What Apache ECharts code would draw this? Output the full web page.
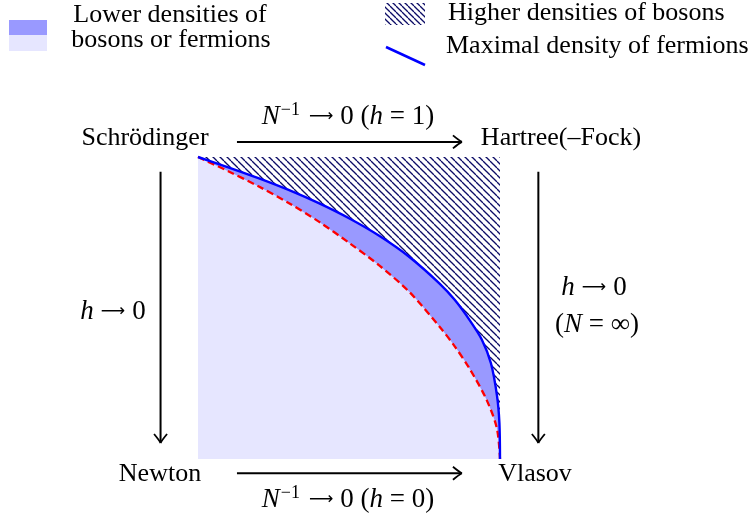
<!DOCTYPE html>
<html>
<head>
<meta charset="utf-8">
<script src="https://cdn.jsdelivr.net/npm/echarts@6/dist/echarts.min.js"></script>
<style>
html,body{margin:0;padding:0;background:#fff;}
#chart{width:756px;height:513px;}
</style>
</head>
<body>
<div id="chart"></div>
<script>
// ---- data (unit square: x = 0..1, y = 0..1) ----
const blueCurve = [[0,1],[0.1,0.966],[0.2,0.930],[0.3,0.891],[0.4,0.847],[0.5,0.797],[0.6,0.739],[0.7,0.669],[0.8,0.581],[0.85,0.527],[0.9,0.459],[0.94,0.395],[0.97,0.317],[0.99,0.210],[0.998,0.120],[1,0]];
const redCurve = [[0,1],[0.1,0.953],[0.2,0.903],[0.3,0.848],[0.4,0.786],[0.5,0.716],[0.6,0.641],[0.7,0.553],[0.8,0.438],[0.85,0.373],[0.9,0.298],[0.956,0.195],[0.99,0.100],[1,0]];
const hatchTop = [[0,1],[1,1]];
const arrows = [
  [0.129, 1.050, 0.874, 1.050],   // Schrödinger -> Hartree
  [0.129, -0.047, 0.874, -0.047], // Newton -> Vlasov
  [-0.124, 0.951, -0.124, 0.053], // Schrödinger -> Newton
  [1.127, 0.951, 1.127, 0.053]    // Hartree -> Vlasov
];
const legendLabels = ['Lower densities of', 'bosons or fermions', 'Higher densities of bosons', 'Maximal density of fermions'];
const nodeLabels = ['Schrödinger', 'Hartree(–Fock)', 'Newton', 'Vlasov'];

// ---- layout ----
const PX = 302, X0 = 198, Y0 = 459, W = 756, H = 513;
const FONT = '"Liberation Serif", "Times New Roman", serif';
const FS = 26;

function hatchPattern(s, lw) {
  const c = document.createElement('canvas');
  c.width = s; c.height = s;
  const g = c.getContext('2d');
  g.strokeStyle = '#0c0c66';
  g.lineWidth = lw;
  for (let k = -1; k <= 1; k++) {
    g.beginPath();
    g.moveTo(k * s, 0);
    g.lineTo(k * s + s, s);
    g.stroke();
  }
  return c;
}
const pat = { image: hatchPattern(7, 1.3), repeat: 'repeat' };
const patSmall = { image: hatchPattern(6, 1.3), repeat: 'repeat' };

const chart = echarts.init(document.getElementById('chart'), null, {renderer: 'canvas'});

const mathRich = {
  it: {fontFamily: FONT, fontStyle: 'italic', fontSize: 27, color: '#000'},
  sup: {fontFamily: FONT, fontSize: 18, color: '#000', verticalAlign: 'top', padding: [0,2,13,1]},
  n: {fontFamily: FONT, fontSize: 27, color: '#000'},
  ar: {fontFamily: '"DejaVu Sans"', fontSize: 17, color: '#000', padding: [0, 7, 0, 7]}
};

function txt(text, x, y, align) {
  return {
    type: 'text', x: x, y: y, z: 100,
    style: {text: text, fill: '#000', font: FS + 'px ' + FONT, textAlign: align || 'center', textVerticalAlign: 'middle'}
  };
}
function mtxt(text, x, y) {
  return {type: 'text', x: x, y: y, z: 100, style: {text: text, rich: mathRich, textAlign: 'center', textVerticalAlign: 'middle'}};
}

const graphics = [
  {type: 'rect', shape: {x: 9, y: 20, width: 38, height: 15}, style: {fill: '#9999ff'}},
  {type: 'rect', shape: {x: 9, y: 35, width: 38, height: 16}, style: {fill: '#e6e6ff'}},
  {type: 'rect', shape: {x: 385, y: 3, width: 40, height: 22}, style: {fill: patSmall}},
  {type: 'line', shape: {x1: 386, y1: 47, x2: 425, y2: 65}, style: {stroke: '#0000ff', lineWidth: 2.5}},
  txt(legendLabels[0], 170, 15.5),
  txt(legendLabels[1], 171, 40),
  txt(legendLabels[2], 448, 13, 'left'),
  txt(legendLabels[3], 446, 46.5, 'left'),
  txt(nodeLabels[0], 145, 138.5),
  txt(nodeLabels[1], 561, 138),
  txt(nodeLabels[2], 160, 474.5),
  txt(nodeLabels[3], 535, 474.5),
  mtxt('{it|N}{sup|−1}{ar|⟶}{n|0 (}{it|h}{n| = 1)}', 348, 117),
  mtxt('{it|N}{sup|−1}{ar|⟶}{n|0 (}{it|h}{n| = 0)}', 348, 500),
  mtxt('{it|h}{ar|⟶}{n|0}', 113, 311.5),
  mtxt('{it|h}{ar|⟶}{n|0}', 594, 288),
  mtxt('{n|(}{it|N}{n| = ∞)}', 597, 325)
];

const option = {
  animation: false,
  backgroundColor: '#fff',
  grid: {left: 0, right: 0, top: 0, bottom: 0},
  xAxis: {type: 'value', min: -X0 / PX, max: (W - X0) / PX, show: false},
  yAxis: {type: 'value', min: -(H - Y0) / PX, max: Y0 / PX, show: false},
  graphic: graphics,
  series: [
    {type: 'line', data: hatchTop, symbol: 'none', z: 1, lineStyle: {width: 0}, areaStyle: {color: pat, opacity: 1}},
    {type: 'line', data: blueCurve, symbol: 'none', z: 2, smooth: 0.3, lineStyle: {width: 0}, areaStyle: {color: '#9999ff', opacity: 1}},
    {type: 'line', data: redCurve, symbol: 'none', z: 3, smooth: 0.3, lineStyle: {width: 0}, areaStyle: {color: '#e6e6ff', opacity: 1}},
    {type: 'line', data: redCurve, symbol: 'none', z: 4, smooth: 0.3, lineStyle: {color: '#ff0000', width: 2.3, type: [7, 4]}},
    {type: 'line', data: blueCurve, symbol: 'none', z: 5, smooth: 0.3, lineStyle: {color: '#0000ff', width: 2.4}},
    {
      type: 'custom', z: 6, data: arrows, encode: {x: [0, 2], y: [1, 3]},
      renderItem: function (params, api) {
        const p1 = api.coord([api.value(0), api.value(1)]);
        const p2 = api.coord([api.value(2), api.value(3)]);
        const dx = p2[0] - p1[0], dy = p2[1] - p1[1];
        const L = Math.sqrt(dx * dx + dy * dy);
        const ux = dx / L, uy = dy / L, nx = -uy, ny = ux;
        const back = 9, out = 6.5;
        const b1 = [p2[0] - ux * back + nx * out, p2[1] - uy * back + ny * out];
        const b2 = [p2[0] - ux * back - nx * out, p2[1] - uy * back - ny * out];
        const c1 = [p2[0] - ux * 3 + nx * 1.5, p2[1] - uy * 3 + ny * 1.5];
        const c2 = [p2[0] - ux * 3 - nx * 1.5, p2[1] - uy * 3 - ny * 1.5];
        return {
          type: 'group',
          children: [
            {type: 'line', shape: {x1: p1[0], y1: p1[1], x2: p2[0] - ux * 0.8, y2: p2[1] - uy * 0.8}, style: {stroke: '#000', lineWidth: 2}},
            {type: 'bezierCurve', shape: {x1: b1[0], y1: b1[1], x2: p2[0], y2: p2[1], cpx1: c1[0], cpy1: c1[1]}, style: {stroke: '#000', lineWidth: 1.8, fill: null}},
            {type: 'bezierCurve', shape: {x1: b2[0], y1: b2[1], x2: p2[0], y2: p2[1], cpx1: c2[0], cpy1: c2[1]}, style: {stroke: '#000', lineWidth: 1.8, fill: null}}
          ]
        };
      }
    }
  ]
};
chart.setOption(option);
</script>
</body>
</html>
